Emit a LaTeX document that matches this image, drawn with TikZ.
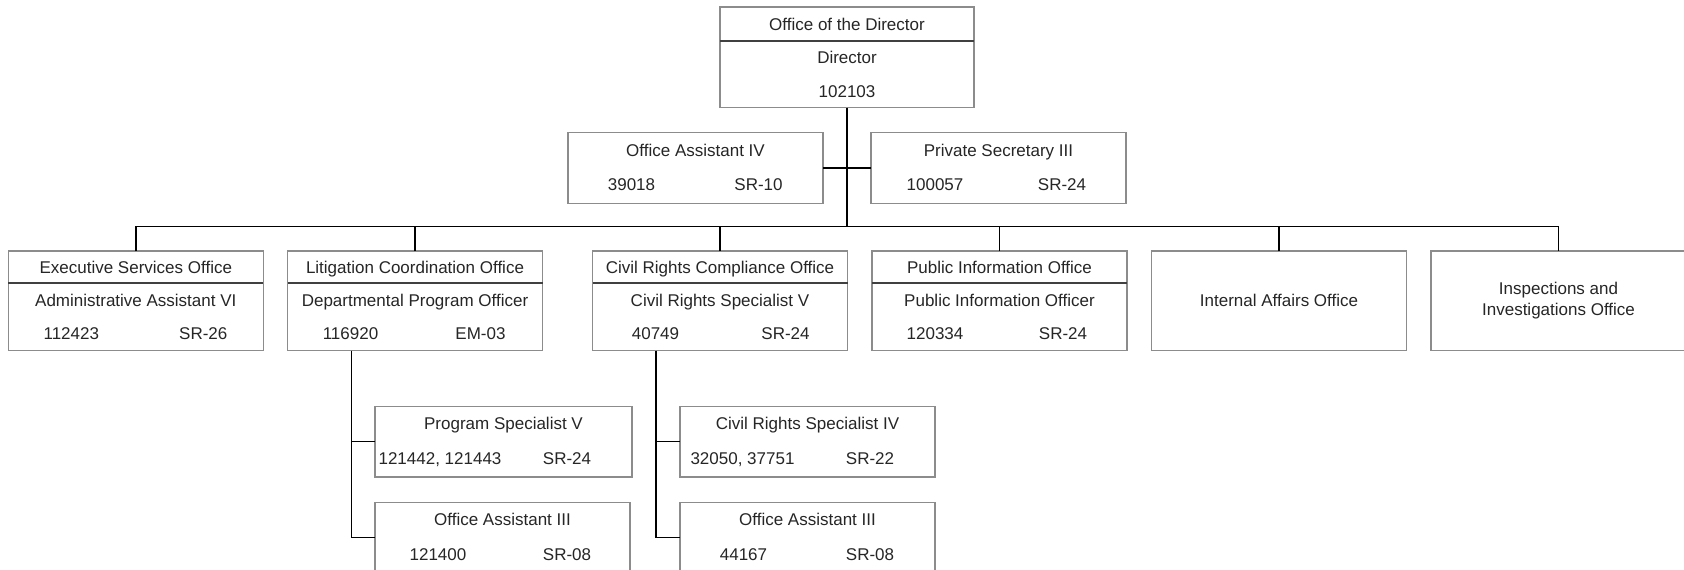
\documentclass[tikz,border=0pt]{standalone}
\usepackage{fontspec}
\setmainfont{Liberation Sans}
\definecolor{bordergray}{HTML}{8C8C8C}
\definecolor{divgray}{HTML}{404040}
\definecolor{txtgray}{HTML}{262626}
\newcommand\OrgBox[7]{%
  \node[box, minimum height=99.5pt] (#1) at (#2,300.75) {};
  \draw[divider] ([yshift=-32pt]#1.north west) -- ([yshift=-32pt]#1.north east);
  \node[txt] (#1-title) at ([yshift=-22pt]#1.north) {#3};
  \node[txt] (#1-role) at ([yshift=-55.5pt]#1.north) {#4};
  \node[txt] (#1-num) at ([xshift=63pt,yshift=-88.5pt]#1.north west) {#5};
  \node[txt] (#1-grade) at ([xshift=#7pt,yshift=-88.5pt]#1.north west) {#6};
}
\newcommand\SmallBox[9]{%
  % name, cx, cy, width, title, num, numoff, grade, gradeoff
  \node[box, minimum width=#4pt, minimum height=70.5pt] (#1) at (#2,#3) {};
  \node[txt] (#1-title) at ([yshift=-23.5pt]#1.north) {#5};
  \node[txt] (#1-num) at ([xshift=#7pt,yshift=-58pt]#1.north west) {#6};
  \node[txt] (#1-grade) at ([xshift=#9pt,yshift=-58pt]#1.north west) {#8};
}
\begin{document}
\begin{tikzpicture}[x=1pt,y=-1pt,
  box/.style={draw=bordergray, line width=1.2pt, minimum width=255pt, inner sep=0pt, outer sep=0pt},
  txt/.style={font=\fontsize{17}{20}\selectfont, text=txtgray, inner sep=0pt, anchor=base},
  divider/.style={draw=divgray, line width=1.2pt},
  link/.style={draw=black, line width=1.4pt}]
\fill[white] (0,0) rectangle (1684,570);
\useasboundingbox (0,0) rectangle (1684,570);

% Director
\node[box, minimum width=254pt, minimum height=100.7pt] (dir) at (847,57.35) {};
\draw[divider] ([yshift=-34pt]dir.north west) -- ([yshift=-34pt]dir.north east);
\node[txt] (dir-title) at ([yshift=-23pt]dir.north) {Office of the Director};
\node[txt] (dir-role) at ([yshift=-56.5pt]dir.north) {Director};
\node[txt] (dir-num) at ([yshift=-90pt]dir.north) {102103};

% staff
\SmallBox{oaiv}{695.5}{168}{255}{Office Assistant IV}{39018}{63.5}{SR-10}{190.5}
\SmallBox{psiii}{998.5}{168}{255}{Private Secretary III}{100057}{64}{SR-24}{191}

% level 2
\OrgBox{exec}{135.8}{Executive Services Office}{Administrative Assistant VI}{112423}{SR-26}{195}
\OrgBox{litig}{415}{Litigation Coordination Office}{Departmental Program Officer}{116920}{EM-03}{193}
\OrgBox{civil}{720}{Civil Rights Compliance Office}{Civil Rights Specialist V}{40749}{SR-24}{193}
\OrgBox{pub}{999.5}{Public Information Office}{Public Information Officer}{120334}{SR-24}{191}

\node[box, minimum height=99.5pt] (intl) at (1279,300.75) {};
\node[txt, anchor=center] (intl-title) at (intl.center) {Internal Affairs Office};
\node[box, minimum height=99.5pt] (insp) at (1558.5,300.75) {};
\node[txt, align=center, anchor=center, font=\fontsize{17}{21.7}\selectfont] (insp-title) at (insp.center) {Inspections and\\Investigations Office};

% level 3
\SmallBox{psv}{503.5}{441.7}{257}{Program Specialist V}{121442, 121443}{65}{SR-24}{192}
\SmallBox{oaiiil}{502.5}{537.5}{255}{Office Assistant III}{121400}{63}{SR-08}{192}
\SmallBox{crsiv}{807.5}{441.7}{255}{Civil Rights Specialist IV}{32050, 37751}{62.5}{SR-22}{190}
\SmallBox{oaiiir}{807.5}{537.5}{255}{Office Assistant III}{44167}{63.5}{SR-08}{190}

% connectors
\coordinate (bus) at (847,226.7);
\draw[link] (dir.south) -- (bus);
\draw[link] (oaiv.east) -- (psiii.west);
\draw[link] (exec.north) -- (exec.north |- bus) -- (insp.north |- bus) -- (insp.north);
\foreach \n in {litig,civil,pub,intl}{\draw[link] (\n.north) -- (\n.north |- bus);}

\coordinate (lsub) at (351.5,350.5);
\draw[link] (lsub) |- (oaiiil.west);
\draw[link] (lsub |- psv.west) -- (psv.west);
\coordinate (csub) at (656,350.5);
\draw[link] (csub) |- (oaiiir.west);
\draw[link] (csub |- crsiv.west) -- (crsiv.west);
\end{tikzpicture}
\end{document}
